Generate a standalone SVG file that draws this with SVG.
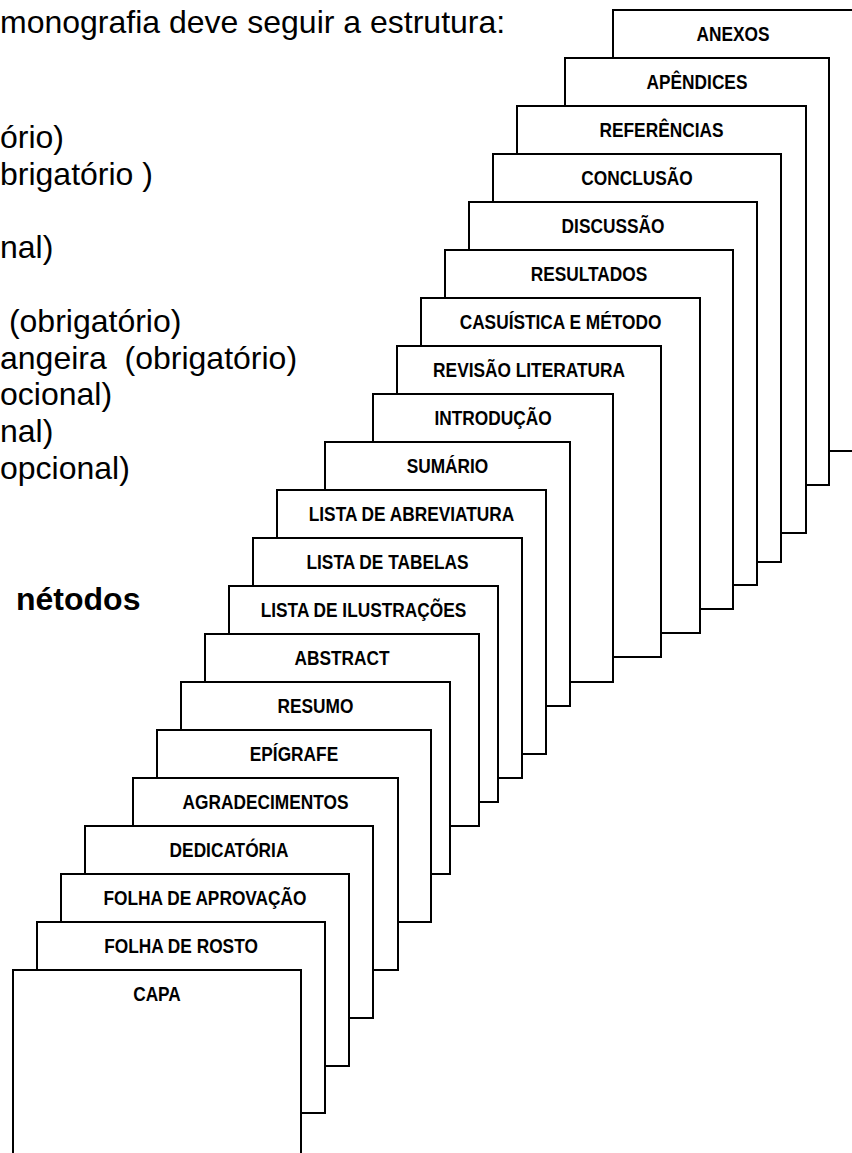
<svg xmlns="http://www.w3.org/2000/svg" width="852" height="1153" viewBox="0 0 852 1153">
<style>
.pg{fill:#fff;stroke:#000;stroke-width:2}
.lbl{font-family:"Liberation Sans",Arial,sans-serif;font-weight:bold;font-size:20px;text-anchor:middle;fill:#000}
.txt{font-family:"Liberation Sans",Arial,sans-serif;font-size:32px;fill:#000}
.txtb{font-family:"Liberation Sans",Arial,sans-serif;font-size:32px;font-weight:bold;fill:#000}
</style>
<rect width="852" height="1153" fill="#fff"/>
<g id="texto">
<text class="txt" x="0" y="33">monografia deve seguir a estrutura:</text>
<text class="txt" x="0" y="148">ório)</text>
<text class="txt" x="0" y="185">brigatório )</text>
<text class="txt" x="0" y="258">nal)</text>
<text class="txt" x="0" y="332" xml:space="preserve"> (obrigatório)</text>
<text class="txt" x="0" y="369" xml:space="preserve">angeira  (obrigatório)</text>
<text class="txt" x="0" y="405">ocional)</text>
<text class="txt" x="0" y="442">nal)</text>
<text class="txt" x="0" y="479">opcional)</text>
<text class="txtb" x="16" y="610">nétodos</text>
</g>
<g id="anexos"><rect class="pg" x="613" y="10" width="240" height="441"/><text class="lbl" transform="translate(733,41) scale(0.865,1)">ANEXOS</text></g>
<g id="apendices"><rect class="pg" x="565" y="58" width="264" height="427"/><text class="lbl" transform="translate(697,89) scale(0.865,1)">APÊNDICES</text></g>
<g id="referencias"><rect class="pg" x="517" y="106" width="289" height="427"/><text class="lbl" transform="translate(661.5,137) scale(0.865,1)">REFERÊNCIAS</text></g>
<g id="conclusao"><rect class="pg" x="493" y="154" width="288" height="408"/><text class="lbl" transform="translate(637,185) scale(0.865,1)">CONCLUSÃO</text></g>
<g id="discussao"><rect class="pg" x="469" y="202" width="288" height="383"/><text class="lbl" transform="translate(613,233) scale(0.865,1)">DISCUSSÃO</text></g>
<g id="resultados"><rect class="pg" x="445" y="250" width="288" height="359"/><text class="lbl" transform="translate(589,281) scale(0.865,1)">RESULTADOS</text></g>
<g id="casuistica"><rect class="pg" x="421" y="298" width="279" height="335"/><text class="lbl" transform="translate(560.5,329) scale(0.865,1)">CASUÍSTICA E MÉTODO</text></g>
<g id="revisao"><rect class="pg" x="397" y="346" width="264" height="311"/><text class="lbl" transform="translate(529,377) scale(0.865,1)">REVISÃO LITERATURA</text></g>
<g id="introducao"><rect class="pg" x="373" y="394" width="240" height="288"/><text class="lbl" transform="translate(493,425) scale(0.865,1)">INTRODUÇÃO</text></g>
<g id="sumario"><rect class="pg" x="325" y="442" width="245" height="264"/><text class="lbl" transform="translate(447.5,473) scale(0.865,1)">SUMÁRIO</text></g>
<g id="lista-abreviatura"><rect class="pg" x="277" y="490" width="269" height="264"/><text class="lbl" transform="translate(411.5,521) scale(0.865,1)">LISTA DE ABREVIATURA</text></g>
<g id="lista-tabelas"><rect class="pg" x="253" y="538" width="269" height="240"/><text class="lbl" transform="translate(387.5,569) scale(0.865,1)">LISTA DE TABELAS</text></g>
<g id="lista-ilustracoes"><rect class="pg" x="229" y="586" width="269" height="216"/><text class="lbl" transform="translate(363.5,617) scale(0.865,1)">LISTA DE ILUSTRAÇÕES</text></g>
<g id="abstract"><rect class="pg" x="205" y="634" width="274" height="192"/><text class="lbl" transform="translate(342,665) scale(0.865,1)">ABSTRACT</text></g>
<g id="resumo"><rect class="pg" x="181" y="682" width="269" height="192"/><text class="lbl" transform="translate(315.5,713) scale(0.865,1)">RESUMO</text></g>
<g id="epigrafe"><rect class="pg" x="157" y="730" width="274" height="192"/><text class="lbl" transform="translate(294,761) scale(0.865,1)">EPÍGRAFE</text></g>
<g id="agradecimentos"><rect class="pg" x="133" y="778" width="265" height="192"/><text class="lbl" transform="translate(265.5,809) scale(0.865,1)">AGRADECIMENTOS</text></g>
<g id="dedicatoria"><rect class="pg" x="85" y="826" width="288" height="192"/><text class="lbl" transform="translate(229,857) scale(0.865,1)">DEDICATÓRIA</text></g>
<g id="folha-aprovacao"><rect class="pg" x="61" y="874" width="288" height="192"/><text class="lbl" transform="translate(205,905) scale(0.865,1)">FOLHA DE APROVAÇÃO</text></g>
<g id="folha-rosto"><rect class="pg" x="37" y="922" width="288" height="191"/><text class="lbl" transform="translate(181,953) scale(0.865,1)">FOLHA DE ROSTO</text></g>
<g id="capa"><rect class="pg" x="13" y="970" width="288" height="200"/><text class="lbl" transform="translate(157,1001) scale(0.865,1)">CAPA</text></g>
</svg>
